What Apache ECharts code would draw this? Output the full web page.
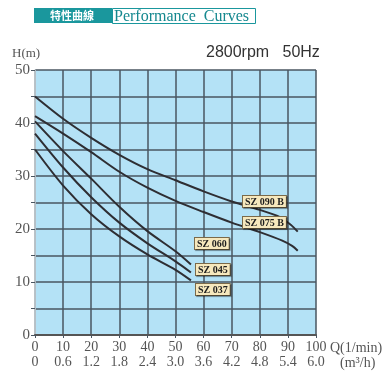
<!DOCTYPE html>
<html><head><meta charset="utf-8">
<script src="https://cdn.jsdelivr.net/npm/echarts@6/dist/echarts.min.js"></script>
<style>html,body{margin:0;padding:0;background:#fff}#c{width:388px;height:392px}</style>
</head><body><div id="c"></div>
<script>
const qTicks = ['0','10','20','30','40','50','60','70','80','90','100'];
const m3Ticks = ['0','0.6','1.2','1.8','2.4','3.0','3.6','4.2','4.8','5.4','6.0'];
const hTicks = ['0','10','20','30','40','50'];
const seriesNames = ['SZ 090 B','SZ 075 B','SZ 060','SZ 045','SZ 037'];
const sz090B = [[0,45],[10,40.8],[20,37.2],[30,34],[40,31.3],[50,29.2],[60,27.1],[70,25.2],[80,23.6],[87,22.3],[91,20.8],[93.5,19.5]];
const sz075B = [[0,41.3],[10,38],[20,34.5],[30,30.8],[40,27.8],[50,25.3],[60,23.2],[70,21.2],[80,19.4],[88,17.8],[91.5,16.8],[93.5,15.9]];
const sz060 = [[0,40.3],[10,34.7],[20,29.5],[30,24.2],[40,19.6],[50,15.8],[55.5,13.3]];
const sz045 = [[0,38],[10,31.6],[20,26],[30,21.2],[40,17.3],[50,13.9],[55.5,11.8]];
const sz037 = [[0,35],[10,28.2],[20,22.8],[30,18.6],[40,15.2],[50,12.3],[55.5,10.3]];
const curves = [sz090B, sz075B, sz060, sz045, sz037];

const chart = echarts.init(document.getElementById('c'), null, {renderer:'canvas'});
const serif = "'Liberation Serif', 'DejaVu Serif', serif";
const gridColor = '#4a5661';
const labelBox = (text, x, y) => ({
  type:'text', left:x, top:y, z:100,
  style:{text:text, font:"bold 10px " + serif, fill:'#1e1e1e',
    backgroundColor:'#f6e8bd', borderColor:'#7a6a4a', borderWidth:1,
    padding:[1,2,0,2], shadowColor:'rgba(0,0,0,0.35)', shadowOffsetX:1, shadowOffsetY:1, shadowBlur:1}
});
chart.setOption({
  animation:false,
  grid:{left:35, top:70, width:281, height:265, show:true, backgroundColor:'#b4e2f6', borderWidth:0},
  xAxis:{type:'value', min:0, max:100, interval:10,
    axisLine:{show:true, lineStyle:{color:'#555', width:2}},
    axisTick:{show:true, length:3, lineStyle:{color:gridColor}},
    splitLine:{show:true, lineStyle:{color:gridColor, width:1.5}},
    axisLabel:{margin:5, lineHeight:15, fontFamily:serif, fontSize:14, color:'#555',
      formatter:v => { const i = Math.round(v/10); return qTicks[i] + '\n' + m3Ticks[i]; }}
  },
  yAxis:{type:'value', min:0, max:50, interval:5,
    axisLine:{show:true, lineStyle:{color:'#d0d8dc', width:1.5}},
    axisTick:{show:true, length:4, lineStyle:{color:gridColor}},
    splitLine:{show:true, lineStyle:{color:gridColor, width:1.5}},
    axisLabel:{margin:5, fontFamily:serif, fontSize:15, color:'#555',
      formatter:v => (v % 10 === 0 ? hTicks[v/10] : '')}
  },
  series: curves.map((d,i) => ({
    name:seriesNames[i], type:'line', data:d, smooth:0.3, symbol:'none',
    lineStyle:{color:'#2e2e33', width:2}, z:5
  })),
  graphic:[
    {type:'rect', left:34, top:8, shape:{width:78, height:15}, style:{fill:'#1a979d'}},
    {type:'text', left:50, top:10, style:{text:'特性曲線', font:"bold 11px 'Noto Sans CJK TC'", fill:'#fff'}},
    {type:'rect', left:112, top:8, shape:{width:143, height:15}, style:{fill:'#fff', stroke:'#1a979d', lineWidth:1}},
    {type:'text', left:114, top:8.5, style:{text:'Performance  Curves', font:"16px " + serif, fill:'#15888f'}},
    {type:'text', left:12, top:47, style:{text:'H(m)', font:"13px " + serif, fill:'#555'}},
    {type:'text', left:206, top:45, style:{text:'2800rpm   50Hz', font:"16px 'Liberation Sans', Arial, sans-serif", fill:'#333'}},
    {type:'text', left:330, top:341, style:{text:'Q(1/min)', font:"14px " + serif, fill:'#555'}},
    {type:'text', left:340, top:356, style:{text:'(m³/h)', font:"14px " + serif, fill:'#555'}},
    labelBox(seriesNames[0], 242, 195),
    labelBox(seriesNames[1], 242, 216),
    labelBox(seriesNames[2], 194, 237),
    labelBox(seriesNames[3], 195, 263),
    labelBox(seriesNames[4], 195, 283)
  ]
});
</script></body></html>
